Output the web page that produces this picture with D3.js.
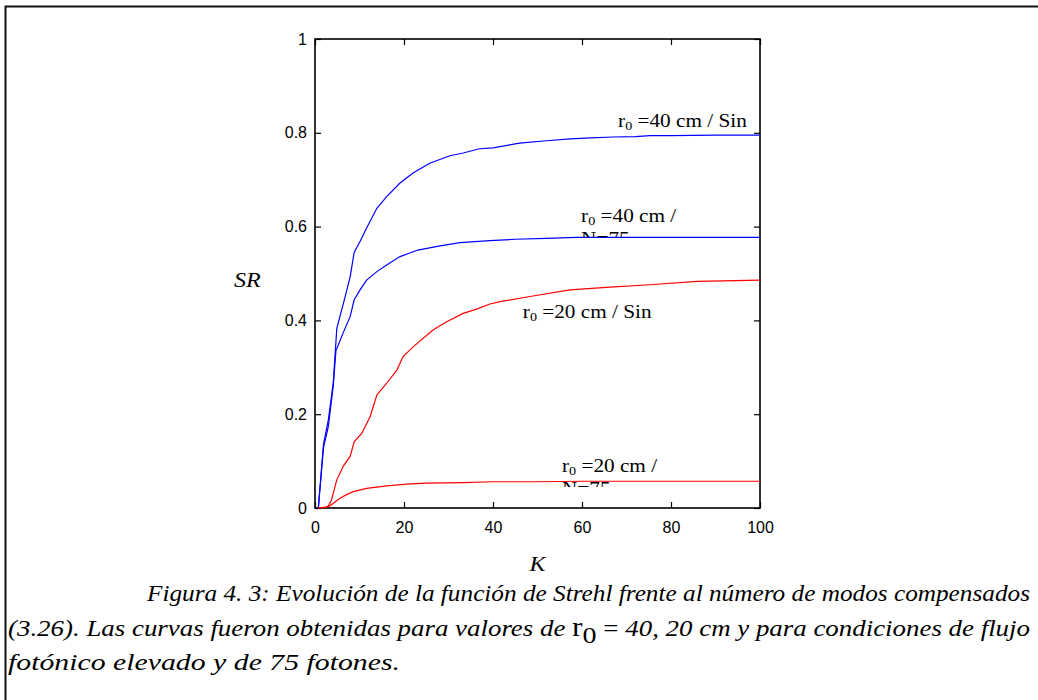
<!DOCTYPE html>
<html>
<head>
<meta charset="utf-8">
<script src="https://cdn.jsdelivr.net/npm/d3@7"></script>
<style>
  html, body { margin: 0; padding: 0; background: #fff; }
  svg { display: block; }
  .serif { font-family: "Liberation Serif", "Times New Roman", Times, serif; }
  .sans { font-family: "Liberation Sans", Arial, Helvetica, sans-serif; }
</style>
</head>
<body>
<div id="chart"></div>
<script>
// axis ticks
const kTicks = [0, 20, 40, 60, 80, 100];
const srTicks = [0, 0.2, 0.4, 0.6, 0.8, 1];

// r0 = 40 cm, high photon flux ("Sin")
const k40sin  = [0.75, 1.9, 3.0, 4.1, 4.9, 6.4, 7.9, 8.8, 10.2, 11.6, 13.9, 16.1, 19.1, 22.1, 25.8, 30.3, 33.3, 37, 40, 46, 52, 57.3, 62, 67, 72, 75.3, 80, 90, 100];
const sr40sin = [0, 0.135, 0.188, 0.267, 0.383, 0.437, 0.493, 0.545, 0.57, 0.597, 0.639, 0.664, 0.693, 0.715, 0.735, 0.751, 0.757, 0.766, 0.768, 0.778, 0.783, 0.787, 0.789, 0.791, 0.792, 0.794, 0.794, 0.795, 0.795];

// r0 = 40 cm, 75 photons
const k40n75  = [0.75, 1.9, 3.0, 4.1, 4.7, 6.4, 7.9, 8.8, 10.2, 11.6, 13.9, 16.1, 19.1, 23.1, 28.1, 32.6, 39.3, 45, 52, 58.8, 70, 80, 90, 100];
const sr40n75 = [0, 0.128, 0.174, 0.26, 0.335, 0.375, 0.408, 0.444, 0.466, 0.486, 0.504, 0.518, 0.536, 0.550, 0.559, 0.566, 0.570, 0.573, 0.575, 0.577, 0.577, 0.577, 0.577, 0.577];

// r0 = 20 cm, high photon flux ("Sin")
const k20sin  = [0.75, 2.5, 3.0, 3.7, 4.9, 6.4, 7.9, 8.8, 10.5, 12.4, 13.9, 16.1, 18.4, 19.8, 22.1, 26.6, 29.6, 33.3, 36.3, 39.3, 41.6, 48.3, 57.3, 66.3, 75.3, 85.8, 100];
const sr20sin = [0, 0.002, 0.004, 0.017, 0.06, 0.09, 0.11, 0.141, 0.159, 0.195, 0.241, 0.266, 0.294, 0.323, 0.344, 0.38, 0.397, 0.415, 0.424, 0.435, 0.440, 0.451, 0.465, 0.471, 0.476, 0.483, 0.486];

// r0 = 20 cm, 75 photons
const k20n75  = [0.75, 2.5, 3.4, 4.5, 5.6, 7.0, 8.6, 11.6, 16.1, 20.6, 25, 33.3, 40, 50, 60, 70, 80, 90, 100];
const sr20n75 = [0, 0.002, 0.005, 0.013, 0.021, 0.028, 0.035, 0.042, 0.047, 0.051, 0.053, 0.054, 0.056, 0.056, 0.057, 0.057, 0.057, 0.057, 0.057];

// curve annotations
const labelK     = [68.1, 59.8, 46.7, 55.5];
const labelSR    = [0.813, 0.610, 0.405, 0.077];
const labelRest  = [" =40 cm / Sin", " =40 cm /", " =20 cm / Sin", " =20 cm /"];
const labelLine2 = ["", "N=75", "", "N=75"];

const caption1 = "Figura 4. 3: Evolución de la función de Strehl frente al número de modos compensados";
const caption2a = "(3.26). Las curvas fueron obtenidas para valores de  ";
const caption2b = " 40, 20 cm y para condiciones de flujo";
const caption3 = "fotónico elevado y de 75 fotones.";

const width = 1038, height = 700;

const svg = d3.select('#chart').append('svg')
  .attr('width', width)
  .attr('height', height);

// outer frame (runs off the right and bottom of the picture)
svg.append('rect')
  .attr('x', 5.5).attr('y', 6.5)
  .attr('width', 1100).attr('height', 800)
  .attr('fill', 'none')
  .attr('stroke', '#111')
  .attr('stroke-width', 2);

const x = d3.scaleLinear().domain([0, 100]).range([315, 760]);
const y = d3.scaleLinear().domain([0, 1]).range([508, 39]);

// ticks on all four sides, pointing inward
const axB = svg.append('g').attr('transform', `translate(0,${y(0)})`)
  .call(d3.axisBottom(x).tickValues(kTicks).tickSize(-6).tickPadding(13.5));
const axL = svg.append('g').attr('transform', `translate(${x(0)},0)`)
  .call(d3.axisLeft(y).tickValues(srTicks).tickSize(-6).tickPadding(8).tickFormat(d3.format('')));
const axT = svg.append('g').attr('transform', `translate(0,${y(1)})`)
  .call(d3.axisTop(x).tickValues(kTicks).tickSize(-6).tickFormat(''));
const axR = svg.append('g').attr('transform', `translate(${x(100)},0)`)
  .call(d3.axisRight(y).tickValues(srTicks).tickSize(-6).tickFormat(''));

[axB, axL, axT, axR].forEach(g => {
  g.attr('font-family', null).attr('font-size', null).attr('class', 'sans');
  g.select('.domain').remove();
  g.selectAll('line').attr('stroke', '#000').attr('stroke-width', 1.2);
  g.selectAll('text').attr('font-size', 16).attr('fill', '#000');
});

svg.append('rect')
  .attr('x', x(0)).attr('y', y(1))
  .attr('width', x(100) - x(0)).attr('height', y(0) - y(1))
  .attr('fill', 'none')
  .attr('stroke', '#000')
  .attr('stroke-width', 1.6);

// curves
const line = d3.line().x(d => x(d[0])).y(d => y(d[1]));
const series = [
  { k: k40sin, sr: sr40sin, color: '#0000ff' },
  { k: k40n75, sr: sr40n75, color: '#0000ff' },
  { k: k20sin, sr: sr20sin, color: '#ff0000' },
  { k: k20n75, sr: sr20n75, color: '#ff0000' }
];
svg.selectAll('path.curve')
  .data(series)
  .enter()
  .append('path')
  .attr('class', 'curve')
  .attr('d', s => line(s.k.map((k, i) => [k, s.sr[i]])))
  .attr('fill', 'none')
  .attr('stroke', s => s.color)
  .attr('stroke-width', 1.2);

// labels next to the curves; the second line is cut off like in the original
const defs = svg.append('defs');
labelK.forEach((k, i) => {
  const lx = x(k), ly = y(labelSR[i]);
  const g = svg.append('g').attr('class', 'serif').attr('font-size', 18).attr('fill', '#000');
  if (labelLine2[i]) {
    defs.append('clipPath').attr('id', 'clip' + i)
      .append('rect').attr('x', lx - 5).attr('y', ly - 30).attr('width', 200).attr('height', 45);
    g.attr('clip-path', `url(#clip${i})`);
  }
  const t = g.append('text')
    .attr('transform', `translate(${lx},${ly}) scale(1.18,1)`);
  t.append('tspan').text('r');
  t.append('tspan').attr('font-size', 12).attr('dy', 3).text('0');
  t.append('tspan').attr('dy', -3).text(labelRest[i]);
  if (labelLine2[i]) {
    g.append('text')
      .attr('transform', `translate(${lx},${ly + 23}) scale(1.18,1)`)
      .text(labelLine2[i]);
  }
});

// axis titles
svg.append('text')
  .attr('class', 'serif')
  .attr('transform', 'translate(234,287) scale(1.2,1)')
  .attr('font-style', 'italic').attr('font-size', 20)
  .text('SR');
svg.append('text')
  .attr('class', 'serif')
  .attr('transform', `translate(${(x(0) + x(100)) / 2},571) scale(1.2,1)`)
  .attr('text-anchor', 'middle')
  .attr('font-style', 'italic').attr('font-size', 20)
  .text('K');

// caption
const cap = svg.append('g')
  .attr('class', 'serif').attr('font-style', 'italic').attr('font-size', 23).attr('fill', '#000');
cap.append('text').attr('x', 147).attr('y', 601)
  .attr('textLength', 883).attr('lengthAdjust', 'spacingAndGlyphs')
  .text(caption1);
const l2 = cap.append('text').attr('x', 8).attr('y', 636)
  .attr('textLength', 1022).attr('lengthAdjust', 'spacingAndGlyphs');
l2.append('tspan').text(caption2a);
l2.append('tspan').attr('font-style', 'normal').attr('font-size', 27).text('r');
l2.append('tspan').attr('font-style', 'normal').attr('font-size', 24).attr('dy', 7).text('0');
l2.append('tspan').attr('font-style', 'normal').attr('dy', -7).text(' =');
l2.append('tspan').text(caption2b);
cap.append('text').attr('x', 8).attr('y', 670)
  .attr('textLength', 392).attr('lengthAdjust', 'spacingAndGlyphs')
  .text(caption3);
</script>
</body>
</html>
